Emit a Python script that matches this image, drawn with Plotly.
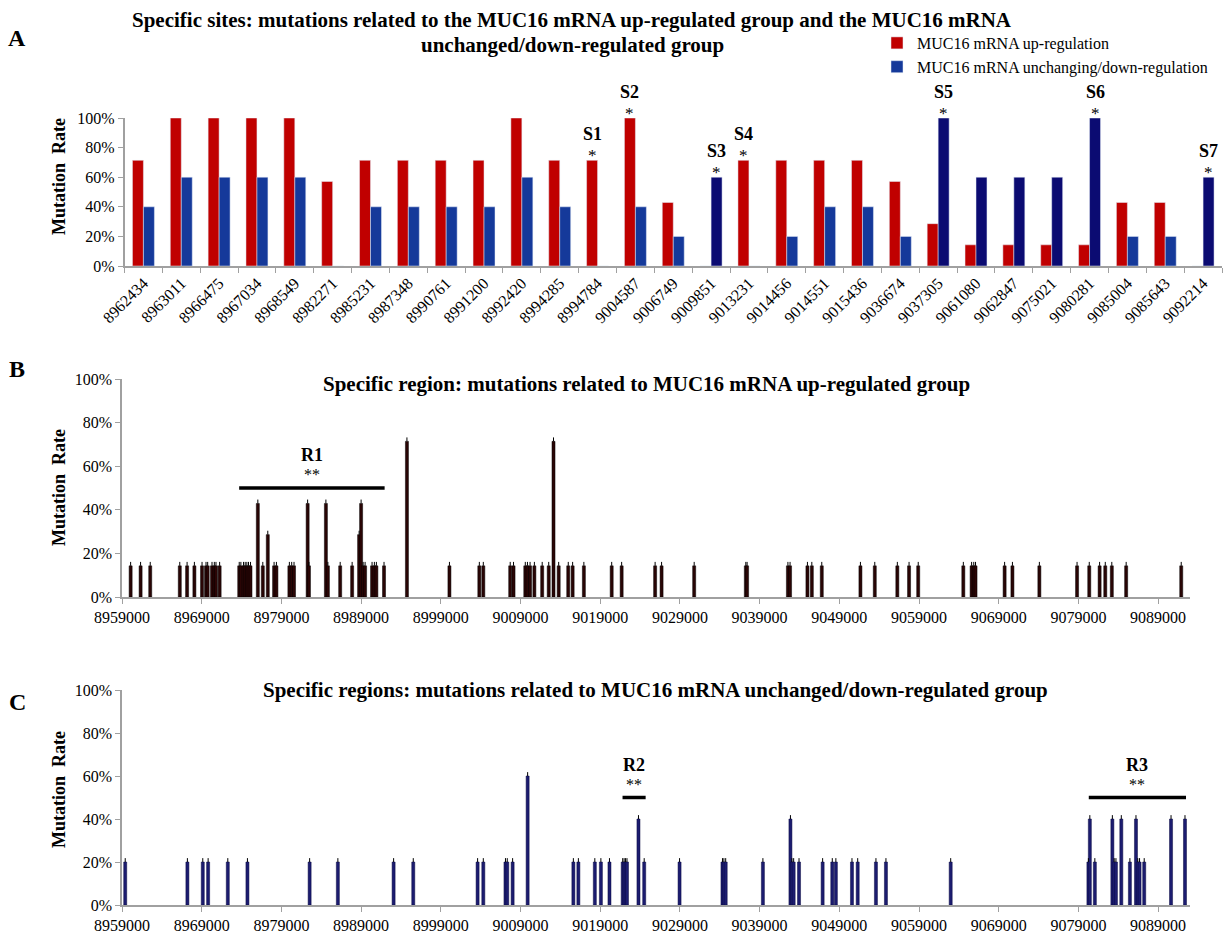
import plotly.graph_objects as go

W, H = 1225, 933

# ---------------- Panel A data ----------------
sites = ["8962434", "8963011", "8966475", "8967034", "8968549", "8982271", "8985231",
         "8987348", "8990761", "8991200", "8992420", "8994285", "8994784", "9004587",
         "9006749", "9009851", "9013231", "9014456", "9014551", "9015436", "9036674",
         "9037305", "9061080", "9062847", "9075021", "9080281", "9085004", "9085643",
         "9092214"]
up_rate = [71.4, 100, 100, 100, 100, 57.1, 71.4, 71.4, 71.4, 71.4, 100, 71.4, 71.4, 100,
           42.9, 0, 71.4, 71.4, 71.4, 71.4, 57.1, 28.6, 14.3, 14.3, 14.3, 14.3, 42.9, 42.9, 0]
down_rate = [40, 60, 60, 60, 60, 0, 40, 40, 40, 40, 60, 40, 0, 40,
             20, 60, 0, 20, 40, 40, 20, 100, 60, 60, 60, 100, 20, 20, 60]
sig_labels = ["S1", "S2", "S3", "S4", "S5", "S6", "S7"]
sig_sites = ["8994784", "9004587", "9009851", "9013231", "9037305", "9080281", "9092214"]
sig_group = ["up", "up", "down", "up", "down", "down", "down"]

# ---------------- Panel B data ----------------
pos_up = [8960083, 8961333, 8962542, 8966250, 8967167, 8968083, 8969042, 8969542, 8969750,
          8970292, 8970583, 8970792, 8971250, 8973708, 8973917, 8974250, 8974458, 8974667,
          8974875, 8975125, 8976042, 8976667, 8977292, 8978083, 8978375, 8980000, 8980292,
          8980583, 8982292, 8982458, 8984583, 8984833, 8986375, 8987875, 8988750, 8989000,
          8989250, 8989500, 8990375, 8990667, 8990917, 8991875, 8994750, 9000083, 9003833,
          9004333, 9007708, 9008125, 9009600, 9009870, 9010200, 9010740, 9011720, 9012540,
          9013140, 9013790, 9014990, 9015540, 9016950, 9020440, 9021690, 9025890, 9026700,
          9030790, 9037270, 9037430, 9042550, 9042820, 9045000, 9045550, 9046800, 9051650,
          9053450, 9056280, 9057750, 9058900, 9064560, 9065600, 9065870, 9066090, 9069740,
          9070720, 9074100, 9078830, 9080360, 9081660, 9082370, 9083190, 9084990, 9091900]
rate_up_high = {8976042: 42.9, 8977292: 28.6, 8982292: 42.9, 8984583: 42.9,
                8988750: 28.6, 8989000: 42.9, 8994750: 71.4, 9013140: 71.4}
val_up = [rate_up_high.get(p, 14.3) for p in pos_up]

# ---------------- Panel C data ----------------
pos_dn = [8959404, 8967206, 8969134, 8969806, 8972273, 8974739, 8982541, 8986083, 8993078,
          8995545, 9003616, 9004333, 9007114, 9007338, 9008011, 9009894, 9015633, 9016261,
          9018324, 9019086, 9020162, 9021821, 9022000, 9022180, 9022360, 9023800, 9024520,
          9028955, 9034341, 9034520, 9034745, 9039412, 9042868, 9043048, 9043272, 9043945,
          9046907, 9048119, 9048568, 9050588, 9051306, 9053595, 9054851, 9062974, 9080253,
          9080433, 9081061, 9083260, 9083484, 9083709, 9084382, 9085459, 9086222, 9086447,
          9086671, 9087255, 9090621, 9092371]
rate_dn_high = {9009894: 60, 9023800: 40, 9042868: 40, 9080433: 40, 9083260: 40,
                9084382: 40, 9086222: 40, 9090621: 40, 9092371: 40}
val_dn = [rate_dn_high.get(p, 20) for p in pos_dn]

region_names = ["R1", "R2", "R3"]
region_start = [8973700, 9021800, 9080300]
region_end = [8991950, 9024700, 9092500]
region_axis = ["x2", "x3", "x3"]

pos_ticks = list(range(8959000, 9090000, 10000))

FONT = "Times New Roman, Liberation Serif, serif"
RED = "#C00000"
BLUE = "#15399A"
NAVY = "#0B0B72"
BARGAP = 0.42

def px_x(p):   # page pixel -> paper fraction
    return p / W

def px_y(p):
    return 1 - p / H

idx = list(range(len(sites)))
blue_colors = [NAVY if d > u else BLUE for u, d in zip(up_rate, down_rate)]

fig = go.Figure()

fig.add_trace(go.Bar(x=idx, y=up_rate, name="MUC16 mRNA up-regulation",
                     marker=dict(color=RED), xaxis="x", yaxis="y"))
fig.add_trace(go.Bar(x=idx, y=down_rate, name="MUC16 mRNA unchanging/down-regulation",
                     marker=dict(color=blue_colors), xaxis="x", yaxis="y"))

cap = dict(type="data", symmetric=False, width=0, thickness=1, color="#000000")
fig.add_trace(go.Bar(x=pos_up, y=val_up, width=[380] * len(pos_up), showlegend=False,
                     marker=dict(color="#2A0505", line=dict(color="#000000", width=0.5)),
                     error_y=dict(array=[1.8] * len(pos_up), arrayminus=[0] * len(pos_up), **cap),
                     xaxis="x2", yaxis="y2"))
fig.add_trace(go.Bar(x=pos_dn, y=val_dn, width=[380] * len(pos_dn), showlegend=False,
                     marker=dict(color="#1C1C70", line=dict(color="#0A0A40", width=0.5)),
                     error_y=dict(array=[1.8] * len(pos_dn), arrayminus=[0] * len(pos_dn), **cap),
                     xaxis="x3", yaxis="y3"))

axis_common = dict(showline=True, linecolor="#A0A0A0", linewidth=1.5, ticks="outside",
                   tickcolor="#A0A0A0", ticklen=5, showgrid=False, zeroline=False,
                   automargin=False,
                   tickfont=dict(family=FONT, size=16, color="#000"))
yaxis_common = dict(axis_common, range=[0, 100], dtick=20, ticksuffix="%")

fig.update_layout(
    width=W, height=H, margin=dict(l=0, r=0, t=0, b=0),
    paper_bgcolor="white", plot_bgcolor="white",
    barmode="group", bargap=BARGAP, bargroupgap=0,
    font=dict(family=FONT, color="#000"),
    xaxis=dict(axis_common, domain=[px_x(124.5), px_x(1222)], range=[-0.5, len(sites) - 0.5],
               tickvals=idx, ticktext=sites, ticks="", tickangle=-45, anchor="y",
               minor=dict(tickvals=[i - 0.5 for i in idx] + [len(sites) - 0.5],
                          ticks="outside", ticklen=5, tickcolor="#A0A0A0", showgrid=False)),
    yaxis=dict(yaxis_common, domain=[px_y(266), px_y(118)], anchor="x"),
    xaxis2=dict(axis_common, domain=[px_x(122), px_x(1190)], range=[8959000, 9093000],
                tickvals=pos_ticks, ticktext=[str(t) for t in pos_ticks], anchor="y2"),
    yaxis2=dict(yaxis_common, domain=[px_y(597), px_y(379)], anchor="x2"),
    xaxis3=dict(axis_common, domain=[px_x(122), px_x(1190)], range=[8959000, 9093000],
                tickvals=pos_ticks, ticktext=[str(t) for t in pos_ticks], anchor="y3"),
    yaxis3=dict(yaxis_common, domain=[px_y(905), px_y(690)], anchor="x3"),
    legend=dict(x=px_x(877), y=px_y(26), xanchor="left", yanchor="top",
                font=dict(family=FONT, size=16, color="#000"), itemwidth=30,
                bgcolor="rgba(0,0,0,0)", tracegroupgap=0),
)

ann = []
# Panel A title (two lines)
title_lines = ["Specific sites: mutations related to the MUC16 mRNA up-regulated group and the MUC16 mRNA",
               "unchanged/down-regulated group"]
for line, yy in zip(title_lines, [20, 45]):
    ann.append(dict(text="<b>%s</b>" % line, x=px_x(572), y=px_y(yy), xref="paper", yref="paper",
                    showarrow=False, font=dict(family=FONT, size=21, color="#000"),
                    xanchor="center", yanchor="middle"))
# Panel letters
for letter, yy in [("A", 38), ("B", 369), ("C", 702)]:
    ann.append(dict(text="<b>%s</b>" % letter, x=px_x(17), y=px_y(yy), xref="paper", yref="paper",
                    showarrow=False, xanchor="center", yanchor="middle",
                    font=dict(family=FONT, size=24, color="#000")))
# Y axis titles
for yy in [177, 488, 790]:
    ann.append(dict(text="<b>Mutation  Rate</b>", x=px_x(59), y=px_y(yy), xref="paper", yref="paper",
                    showarrow=False, textangle=-90, xanchor="center", yanchor="middle",
                    font=dict(family=FONT, size=18, color="#000")))
# Panel B / C titles
ann.append(dict(text="<b>Specific region: mutations related to MUC16 mRNA up-regulated group</b>",
                x=px_x(646), y=px_y(384), xref="paper", yref="paper", showarrow=False,
                xanchor="center", yanchor="middle", font=dict(family=FONT, size=21, color="#000")))
ann.append(dict(text="<b>Specific regions: mutations related to MUC16 mRNA unchanged/down-regulated group</b>",
                x=px_x(655), y=px_y(690), xref="paper", yref="paper", showarrow=False,
                xanchor="center", yanchor="middle", font=dict(family=FONT, size=21, color="#000")))

# Significant sites S1..S7 (bar offset within a group of two bars)
half = (1 - BARGAP) / 4
for lab, site, grp in zip(sig_labels, sig_sites, sig_group):
    i = sites.index(site)
    val = up_rate[i] if grp == "up" else down_rate[i]
    xpos = i - half if grp == "up" else i + half
    ann.append(dict(text="*", x=xpos, y=val, xref="x", yref="y", showarrow=False,
                    yshift=5, yanchor="middle",
                    font=dict(family=FONT, size=17, color="#000")))
    ann.append(dict(text="<b>%s</b>" % lab, x=xpos, y=val, xref="x", yref="y", showarrow=False,
                    yshift=26, yanchor="middle",
                    font=dict(family=FONT, size=18, color="#000")))

# Regions R1..R3
shapes = []
for name, s, e, ax in zip(region_names, region_start, region_end, region_axis):
    yref = "y2" if ax == "x2" else "y3"
    shapes.append(dict(type="line", xref=ax, yref=yref, x0=s, x1=e, y0=50, y1=50,
                       line=dict(color="#000", width=3.5)))
    mid = (s + e) / 2
    ann.append(dict(text="<b>%s</b>" % name, x=mid, y=65, xref=ax, yref=yref, showarrow=False,
                    yanchor="middle", font=dict(family=FONT, size=18, color="#000")))
    ann.append(dict(text="**", x=mid, y=56, xref=ax, yref=yref, showarrow=False,
                    yanchor="middle", font=dict(family=FONT, size=16, color="#000")))

fig.update_layout(annotations=ann, shapes=shapes)
fig.write_html("out.html", config={"displayModeBar": False},
               post_script="document.body.style.margin='0';document.body.style.overflow='hidden';")
